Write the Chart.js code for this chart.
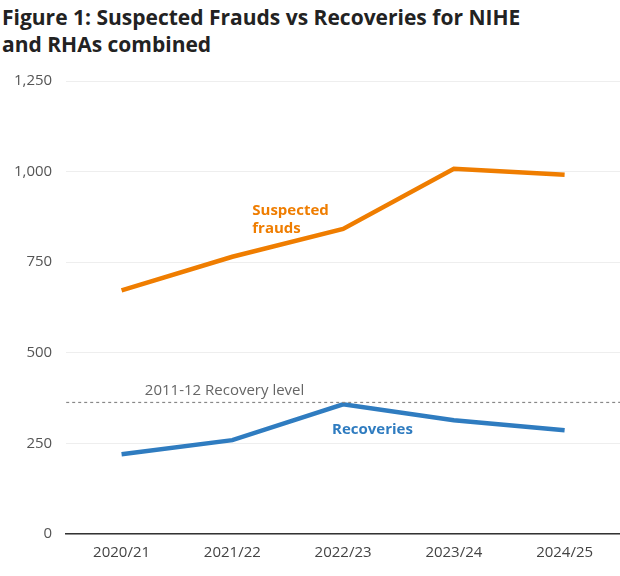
<!DOCTYPE html>
<html>
<head>
<meta charset="utf-8">
<script src="https://cdn.jsdelivr.net/npm/chart.js@4"></script>
<style>
  body { margin: 0; background: #fff; font-family: 'Open Sans', sans-serif; }
  h1 { margin: 0; padding: 4px 0 0 2px; width: 560px; font-size: 21px; line-height: 27px; color: #222; font-weight: 700; }
  .wrap { position: relative; width: 620px; height: 514px; }
</style>
</head>
<body>
<h1>Figure 1: Suspected Frauds vs Recoveries for NIHE and RHAs combined</h1>
<div class="wrap"><canvas id="chart"></canvas></div>
<script>
var years = ['2020/21', '2021/22', '2022/23', '2023/24', '2024/25'];
var suspectedFrauds = [672, 765, 842, 1008, 991];
var recoveries = [220, 259, 358, 314, 286];
var recoveryLevel2011 = 363;
var yTicks = [0, 250, 500, 750, 1000, 1250];

var labelsPlugin = {
  id: 'labels',
  afterDatasetsDraw: function (chart) {
    var ctx = chart.ctx;
    var x = chart.scales.x;
    var y = chart.scales.y;
    var yy = y.getPixelForValue(recoveryLevel2011);
    ctx.save();
    ctx.strokeStyle = '#888';
    ctx.lineWidth = 1.2;
    ctx.setLineDash([3, 3]);
    ctx.beginPath();
    ctx.moveTo(chart.chartArea.left, yy);
    ctx.lineTo(chart.chartArea.right, yy);
    ctx.stroke();
    ctx.setLineDash([]);
    ctx.font = '15px "Open Sans", sans-serif';
    ctx.fillStyle = '#666';
    ctx.textAlign = 'center';
    ctx.fillText('2011-12 Recovery level', x.getPixelForValue(0.93), yy - 7);
    ctx.font = 'bold 15px "Open Sans", sans-serif';
    ctx.fillStyle = '#ef7d00';
    ctx.textAlign = 'left';
    ctx.fillText('Suspected', x.getPixelForValue(1.18), y.getPixelForValue(880));
    ctx.fillText('frauds', x.getPixelForValue(1.18), y.getPixelForValue(830));
    ctx.fillStyle = '#2f7cc0';
    ctx.fillText('Recoveries', x.getPixelForValue(1.9), y.getPixelForValue(277));
    ctx.restore();
  }
};

new Chart(document.getElementById('chart'), {
  type: 'line',
  data: {
    labels: years,
    datasets: [{
      label: 'Suspected frauds',
      data: suspectedFrauds,
      borderColor: '#ef7d00',
      borderWidth: 4.5,
      pointRadius: 0,
      tension: 0
    }, {
      label: 'Recoveries',
      data: recoveries,
      borderColor: '#2f7cc0',
      borderWidth: 4.5,
      pointRadius: 0,
      tension: 0
    }]
  },
  options: {
    responsive: true,
    maintainAspectRatio: false,
    animation: false,
    layout: { padding: { top: 22, right: 0, left: 0, bottom: 0 } },
    plugins: { legend: { display: false }, tooltip: { enabled: false } },
    scales: {
      x: {
        offset: true,
        grid: { display: false, drawTicks: false },
        border: { color: '#333', width: 1.5 },
        ticks: { color: '#444', font: { size: 15, family: "'Open Sans', sans-serif" }, padding: 10 }
      },
      y: {
        min: 0,
        max: 1250,
        afterBuildTicks: function (axis) {
          axis.ticks = yTicks.map(function (v) { return { value: v }; });
        },
        grid: { color: '#eee', drawTicks: false },
        border: { display: false },
        ticks: {
          color: '#555',
          padding: 14,
          font: { size: 15, family: "'Open Sans', sans-serif" },
          callback: function (v) { return v.toLocaleString('en-GB'); }
        }
      }
    }
  },
  plugins: [labelsPlugin]
});
</script>
</body>
</html>
